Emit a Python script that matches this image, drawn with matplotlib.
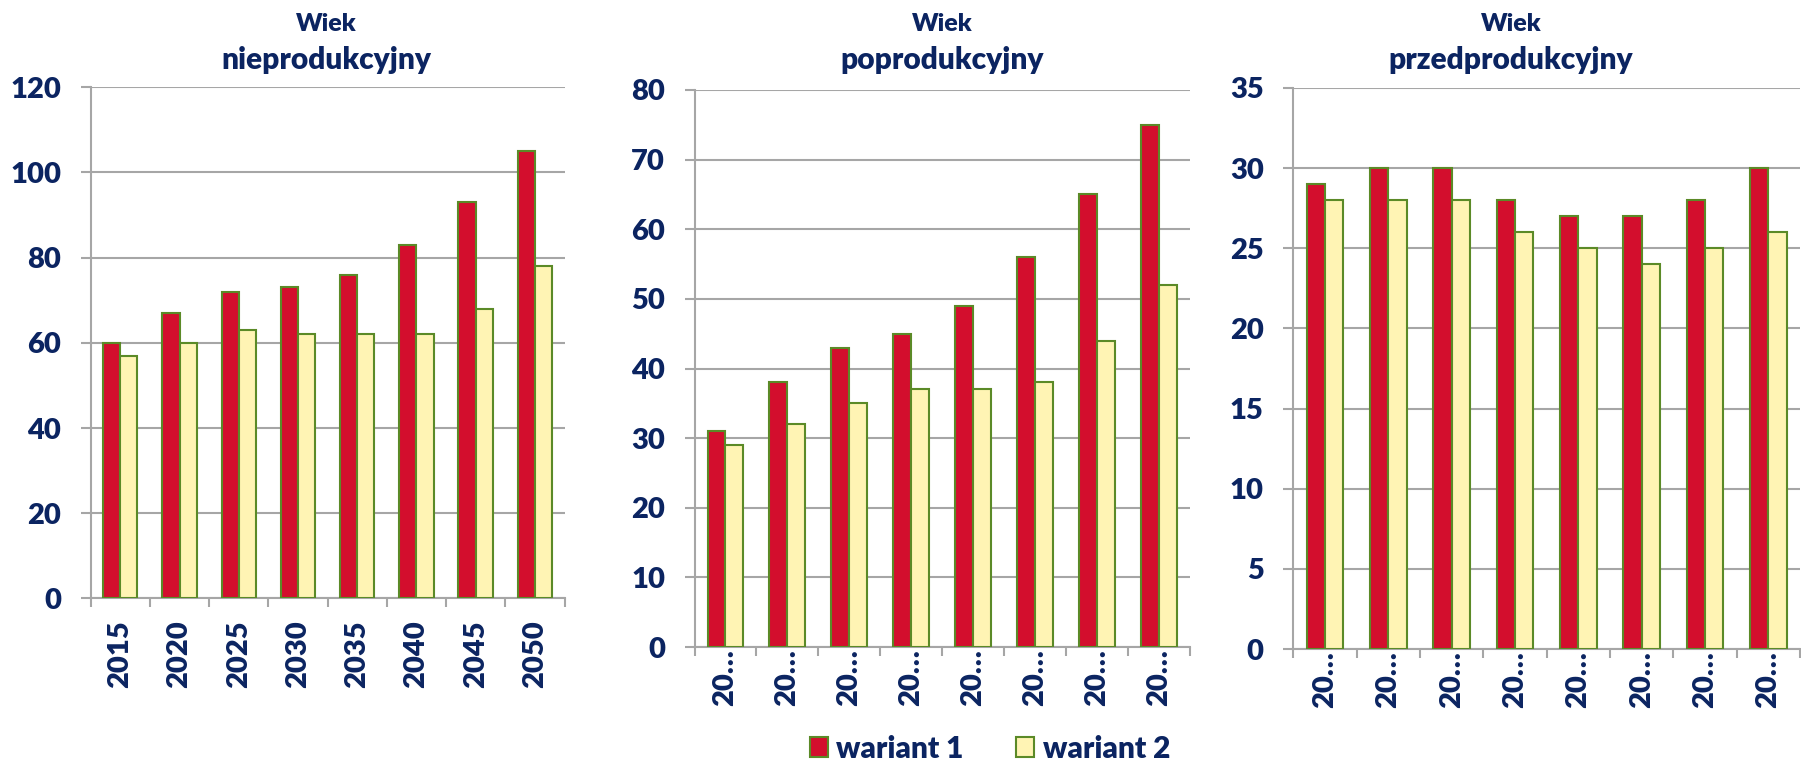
import matplotlib
matplotlib.use("Agg")
import matplotlib.pyplot as plt
from matplotlib.patches import Patch

plt.rcParams["font.family"] = ["Lato", "DejaVu Sans"]
plt.rcParams["font.weight"] = "heavy"

years = ["2015", "2020", "2025", "2030", "2035", "2040", "2045", "2050"]
short_labels = ["20…"] * 8
series_names = ["wariant 1", "wariant 2"]

nieprod_w1 = [60, 67, 72, 73, 76, 83, 93, 105]
nieprod_w2 = [57, 60, 63, 62, 62, 62, 68, 78]

poprod_w1 = [31, 38, 43, 45, 49, 56, 65, 75]
poprod_w2 = [29, 32, 35, 37, 37, 38, 44, 52]

przedprod_w1 = [29, 30, 30, 28, 27, 27, 28, 30]
przedprod_w2 = [28, 28, 28, 26, 25, 24, 25, 26]

titles = ["nieprodukcyjny", "poprodukcyjny", "przedprodukcyjny"]

RED = "#D30E2D"
YELLOW = "#FFF4B4"
EDGE = "#5B8A27"
NAVY = "#0B2461"
GRID = "#A6A6A6"

W, H = 1801, 767
fig = plt.figure(figsize=(W / 100, H / 100), dpi=100)


def add_axes(left, right, top, bottom):
    return fig.add_axes([left / W, 1 - bottom / H, (right - left) / W, (bottom - top) / H])


panels = [
    # (left, right, top, bottom), data1, data2, ymax, step, labels, label pad, title x
    ((90.7, 564.5, 87.3, 598.4), nieprod_w1, nieprod_w2, 120, 20, years, 15.5, 326),
    ((694.5, 1190, 90, 647), poprod_w1, poprod_w2, 80, 10, short_labels, 1.5, 942),
    ((1293.3, 1800, 88, 649), przedprod_w1, przedprod_w2, 35, 5, short_labels, 1.5, 1511),
]

width = 0.29
for (box, d1, d2, ymax, step, xlabels, xpad, title_x), title in zip(panels, titles):
    ax = add_axes(*box)
    x = list(range(len(d1)))
    ax.bar([i - width / 2 for i in x], d1, width, color=RED, edgecolor=EDGE, linewidth=1.5, zorder=3)
    ax.bar([i + width / 2 for i in x], d2, width, color=YELLOW, edgecolor=EDGE, linewidth=1.5, zorder=3)

    ax.set_xlim(-0.5, len(d1) - 0.5)
    ax.set_ylim(0, ymax)
    ax.set_yticks(range(0, ymax + 1, step))
    ax.set_xticks(x)
    ax.set_xticklabels(xlabels, rotation=90, fontsize=21, color=NAVY, fontweight="heavy")
    ax.set_xticks([i - 0.5 for i in range(len(d1) + 1)], minor=True)
    ax.tick_params(axis="x", which="major", length=0, pad=xpad)
    ax.tick_params(axis="x", which="minor", length=6.5, width=1.5, color=GRID)
    ax.tick_params(axis="y", length=7.2, width=1.5, color=GRID, pad=14, labelsize=21, labelcolor=NAVY)

    ax.grid(axis="y", color=GRID, linewidth=1.5, zorder=0)
    ax.set_axisbelow(True)
    for side in ("top", "right"):
        ax.spines[side].set_visible(False)
    for side in ("left", "bottom"):
        ax.spines[side].set_color(GRID)
        ax.spines[side].set_linewidth(1.5)

    fig.text(title_x / W, 1 - 31 / H, "Wiek", ha="center", va="baseline",
             fontsize=18, color=NAVY, fontweight="heavy")
    fig.text(title_x / W, 1 - 69 / H, title, ha="center", va="baseline",
             fontsize=21.5, color=NAVY, fontweight="heavy")

handles = [Patch(facecolor=RED, edgecolor=EDGE, linewidth=1.5),
           Patch(facecolor=YELLOW, edgecolor=EDGE, linewidth=1.5)]
fig.legend(handles, series_names, loc="lower center", bbox_to_anchor=(990 / W, -0.014),
           ncol=2, frameon=False, handlelength=0.6, handleheight=0.65,
           handletextpad=0.3, columnspacing=1.75, borderpad=0,
           labelcolor=NAVY, prop={"weight": "heavy", "size": 21.5})

fig.savefig("out.png", dpi=100)
